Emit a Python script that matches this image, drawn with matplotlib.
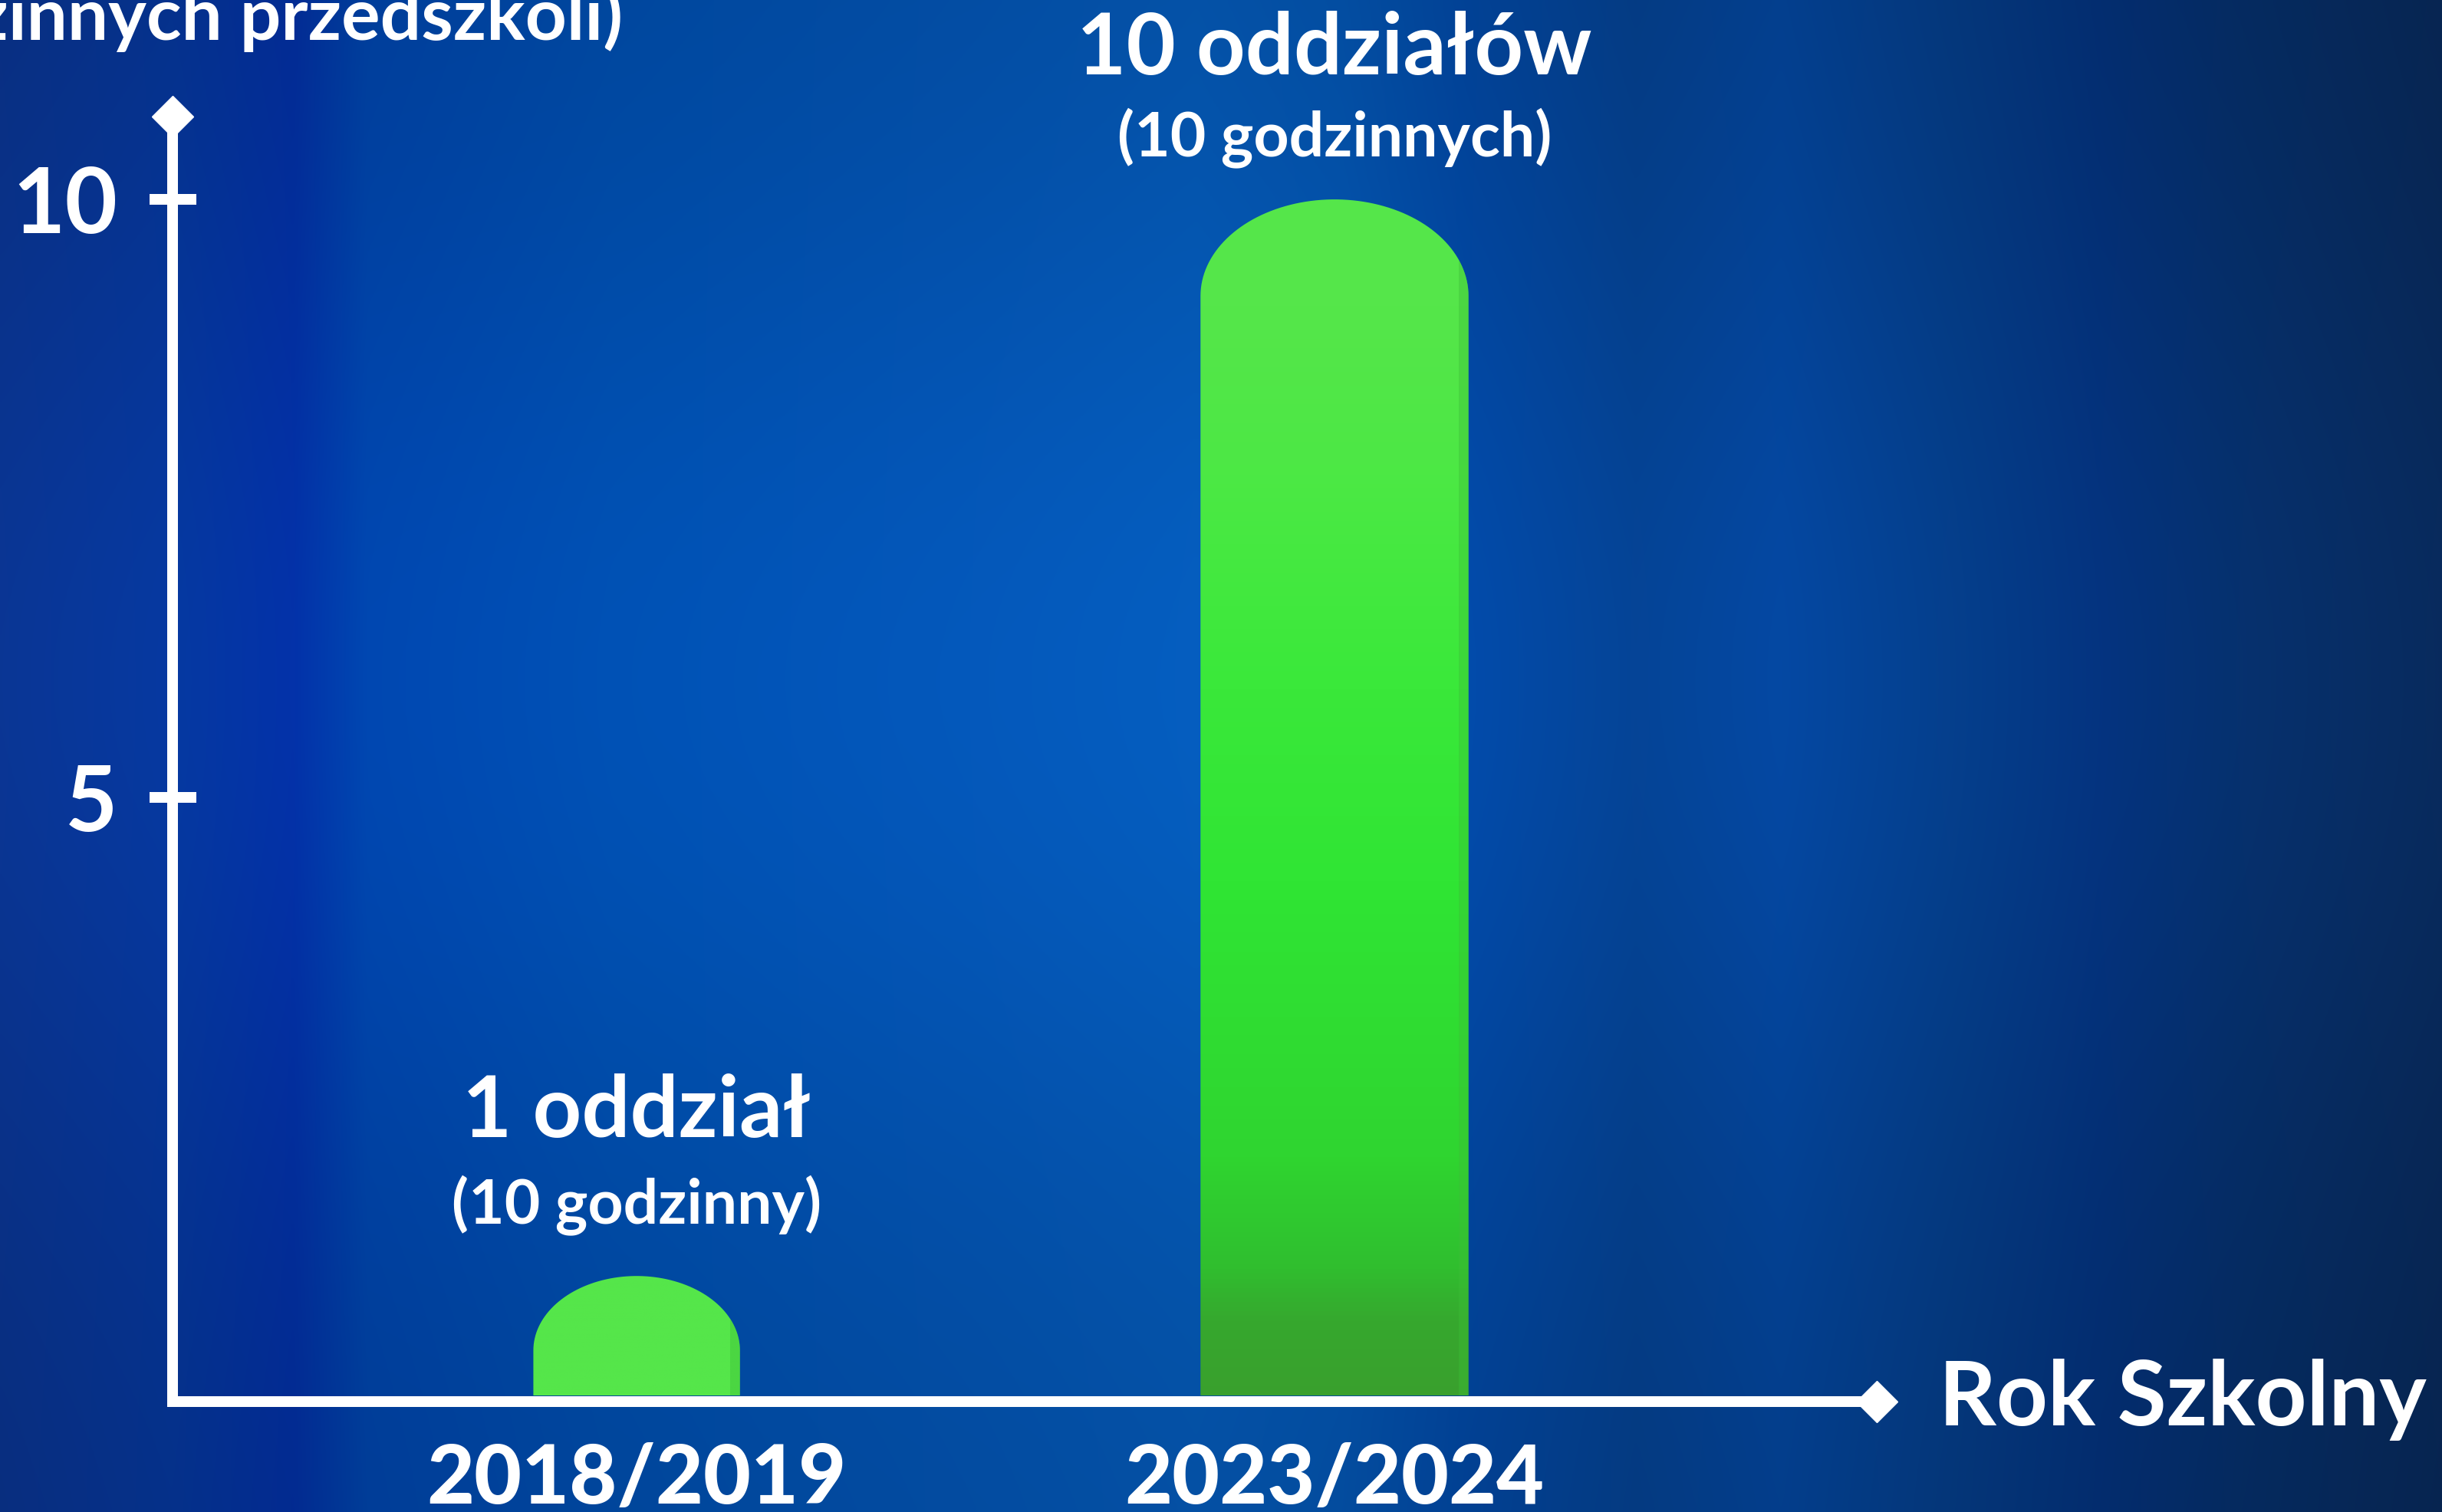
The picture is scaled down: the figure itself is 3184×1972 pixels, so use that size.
import matplotlib
matplotlib.use("Agg")
import matplotlib.pyplot as plt
import numpy as np
from matplotlib.path import Path
from matplotlib.patches import PathPatch
from matplotlib.colors import LinearSegmentedColormap, to_rgb

# Data
years = ["2018/2019", "2023/2024"]
values = [1, 10]
bar_labels = ["1 oddział", "10 oddziałów"]
bar_sublabels = ["(10 godzinny)", "(10 godzinnych)"]
y_ticks = [5, 10]
x_title = "Rok Szkolny"
y_title = "(10 godzinnych przedszkoli)"

# Styling
W, H, DPI = 3184, 1972, 100
plt.rcParams['font.family'] = ['Lato', 'DejaVu Sans']
bar_widths = [0.296, 0.384]
bar_grads = [
    [(0.0, "#55E64A"), (1.0, "#55E64A")],
    [(0.0, "#3AA02D"), (0.06, "#36A82E"), (0.11, "#30C02F"), (0.2, "#2FD530"),
     (0.43, "#30E534"), (0.59, "#3AE83A"), (0.78, "#4DE845"), (0.91, "#55E64A"),
     (1.0, "#55E64A")],
]
main_off = [181, 163]   # px above bar top (baseline)
sub_off = [69, 57]

fig = plt.figure(figsize=(W / DPI, H / DPI), dpi=DPI)

# Background gradient
bg = fig.add_axes([0, 0, 1, 1], zorder=-10)
bg.axis('off')
stops = [(0.00, "#0A3592"), (0.07, "#06389E"), (0.12, "#0331A6"), (0.15, "#0046AE"),
         (0.25, "#0050B2"), (0.40, "#0457B8"), (0.49, "#055CBC"), (0.55, "#0457B5"),
         (0.60, "#024AA8"), (0.67, "#054394"), (0.73, "#0447A0"), (0.80, "#053E8A"),
         (0.86, "#04337E"), (0.92, "#06306C"), (1.00, "#082A5C")]
xs = np.linspace(0, 1, 800)
row = np.array([[np.interp(x, [s[0] for s in stops], [to_rgb(s[1])[k] for s in stops])
                 for k in range(3)] for x in xs])
ys = np.linspace(0, 1, 400)
vert = 0.86 + 0.16 * np.exp(-((ys - 0.45) / 0.35) ** 2)
img = np.clip(row[None, :, :] * vert[:, None, None], 0, 1)
bg.imshow(img, aspect='auto', extent=[0, 1, 0, 1], interpolation='bicubic')
bg.set_xlim(0, 1)
bg.set_ylim(0, 1)

# Main axes: left spine at x=225px, bottom spine center at y=1828px
ax = fig.add_axes([225 / W, (H - 1828) / H, (W - 225) / W, 1828 / H])
ax.set_facecolor('none')
ax.set_xlim(-0.665, 2.587)
ax.set_ylim(-0.05, 11.667)

lw = 14 * 72 / DPI
for s in ['top', 'right']:
    ax.spines[s].set_visible(False)
for s in ['left', 'bottom']:
    ax.spines[s].set_color('white')
    ax.spines[s].set_linewidth(lw)
    ax.spines[s].set_capstyle('projecting')
    ax.spines[s].set_zorder(5)
ax.spines['left'].set_bounds(-0.05, 10.69)
ax.spines['bottom'].set_bounds(-0.665, 1.777)

# Diamond ends on the axes
ax.plot([-0.665], [10.69], marker='D', ms=28, color='white', clip_on=False, zorder=6)
ax.plot([1.777], [-0.05], marker='D', ms=28, color='white', clip_on=False, zorder=6)

ax.set_yticks(y_ticks)
ax.set_yticklabels([str(t) for t in y_ticks])
ax.tick_params(axis='y', direction='inout', length=61 * 72 / DPI, width=lw,
               colors='white', labelsize=85, pad=30)
ax.set_xticks(range(len(years)))
ax.set_xticklabels(years)
ax.tick_params(axis='x', length=0, colors='white', labelsize=77, pad=38)
for lab in ax.get_xticklabels():
    lab.set_fontweight('black')
for lab in ax.get_yticklabels():
    lab.set_fontweight('bold')

fig.canvas.draw()
to_px = ax.transData.transform
sx = (to_px((1, 0))[0] - to_px((0, 0))[0])
sy = (to_px((0, 1))[1] - to_px((0, 0))[1])

for i, (v, w) in enumerate(zip(values, bar_widths)):
    half = w / 2
    cap = 0.72 * half * sx / sy
    t = np.linspace(np.pi, 0, 80)
    arc = np.column_stack([i + half * np.cos(t), v - cap + cap * np.sin(t)])
    verts = np.vstack([[i - half, 0], [i - half, v - cap], arc,
                       [i + half, v - cap], [i + half, 0], [i - half, 0]])
    codes = [Path.MOVETO] + [Path.LINETO] * (len(verts) - 2) + [Path.CLOSEPOLY]
    patch = PathPatch(Path(verts, codes), facecolor='none', edgecolor='none')
    ax.add_patch(patch)
    cmap = LinearSegmentedColormap.from_list('g%d' % i, bar_grads[i])
    grad = np.linspace(0, 1, 256)[:, None]
    im = ax.imshow(grad, cmap=cmap, origin='lower', aspect='auto',
                   extent=[i - half, i + half, 0, v], zorder=2)
    im.set_clip_path(patch)
    # slightly darker right edge
    edge = ax.bar(i + half - 0.007, v, width=0.014, color='#3DBE37', alpha=0.4,
                  zorder=3)
    for r in edge:
        r.set_clip_path(patch)

    ax.annotate(bar_labels[i], (i, v), xytext=(0, main_off[i] * 72 / DPI),
                textcoords='offset points', ha='center', va='baseline',
                color='white', fontsize=80, fontweight='bold', zorder=7)
    ax.annotate(bar_sublabels[i], (i, v), xytext=(0, sub_off[i] * 72 / DPI),
                textcoords='offset points', ha='center', va='baseline',
                color='white', fontsize=58, fontweight='bold', zorder=7)

ax.set_xlim(-0.665, 2.587)
ax.set_ylim(-0.05, 11.667)

fig.text(2528 / W, 1 - 1859 / H, x_title, color='white', fontsize=84,
         fontweight='bold', ha='left', va='baseline')
fig.text(812 / W, 1 - 52 / H, y_title, color='white', fontsize=68,
         fontweight='bold', ha='right', va='baseline')

fig.savefig('out.png', dpi=DPI)
